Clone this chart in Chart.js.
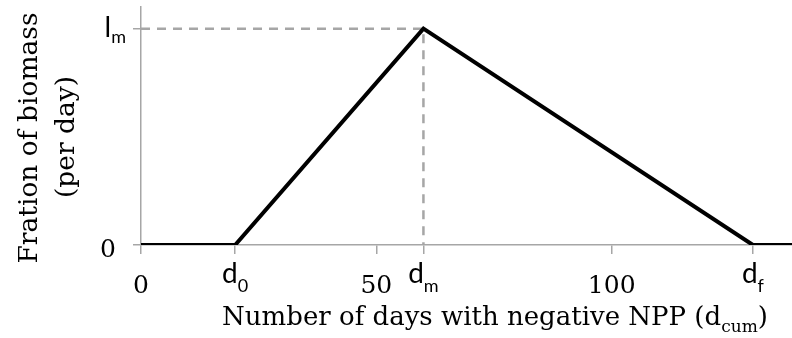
<!DOCTYPE html>
<html lang="en">
<head>
    <meta charset="UTF-8">
    <title>Fraction of biomass</title>
    <style>
        html, body { margin: 0; padding: 0; background: #fff; }
    </style>
</head>
<body>
    <canvas id="myChart" width="792" height="338"></canvas>
<script src="https://cdn.jsdelivr.net/npm/chart.js@4.4.0/dist/chart.umd.min.js"></script>
<script>
    // datos
    var dias = [0, 20, 60, 130, 138.3];
    var fraccion = [0, 0, 1, 0, 0];
    var guiaX = [0, 60, 60];
    var guiaY = [1, 1, 0];

    var xTicks = [0, 20, 50, 60, 100, 130];
    var xTickTexto = ['0', 'd', '50', 'd', '100', 'd'];
    var xTickSub = ['', '0', '', 'm', '', 'f'];
    var yTicks = [0, 1];
    var yTickTexto = ['0', 'l'];
    var yTickSub = ['', 'm'];

    var xMax = 138.3;
    var yMax = 1.1;

    var serif = '"DejaVu Serif"';
    var sans = 'Lato';
    var gris = '#a6a6a6';

    // texto con subindice, alineado al centro o a la derecha de px
    function textoSub(ctx, txt, sub, px, base, baseSub, f1, f2, align) {
        ctx.font = f1;
        var w1 = ctx.measureText(txt).width;
        ctx.font = f2;
        var w2 = ctx.measureText(sub).width;
        var x0 = align == 'right' ? px - w1 - w2 : px - (w1 + w2) / 2;
        ctx.textAlign = 'left';
        ctx.font = f1;
        ctx.fillText(txt, x0, base);
        ctx.font = f2;
        ctx.fillText(sub, x0 + w1, baseSub);
    }

    var etiquetas = {
        id: 'etiquetas',
        afterDraw: function(chart) {
            var ctx = chart.ctx;
            var sx = chart.scales.x;
            var sy = chart.scales.y;
            ctx.save();
            ctx.fillStyle = '#000';
            ctx.textBaseline = 'alphabetic';

            // etiquetas eje x
            xTicks.forEach(function(v, i) {
                var px = sx.getPixelForValue(v);
                if (xTickSub[i] != '') {
                    textoSub(ctx, xTickTexto[i], xTickSub[i], px, 283, 292,
                        '28px ' + sans, '18px ' + sans, 'center');
                } else {
                    ctx.font = '25px ' + serif;
                    ctx.textAlign = 'center';
                    ctx.fillText(xTickTexto[i], px, 293);
                }
            });

            // etiquetas eje y
            yTicks.forEach(function(v, i) {
                var py = sy.getPixelForValue(v);
                if (yTickSub[i] != '') {
                    textoSub(ctx, yTickTexto[i], yTickSub[i], 126, py + 8, py + 14,
                        '28px ' + sans, '18px ' + sans, 'right');
                } else {
                    ctx.font = '25px ' + serif;
                    ctx.textAlign = 'right';
                    ctx.fillText(yTickTexto[i], 116, py + 12);
                }
            });

            // titulo eje x
            var f1 = '26px ' + serif, f2 = '17px ' + serif;
            var partes = [['Number of days with negative NPP (d', f1, 0], ['cum', f2, 7], [')', f1, 0]];
            var total = 0;
            partes.forEach(function(p) { ctx.font = p[1]; p.push(ctx.measureText(p[0]).width); total += p[3]; });
            var x = 495 - total / 2;
            ctx.textAlign = 'left';
            partes.forEach(function(p) {
                ctx.font = p[1];
                ctx.fillText(p[0], x, 325 + p[2]);
                x += p[3];
            });

            // titulo eje y
            ctx.font = '26.5px ' + serif;
            ctx.textAlign = 'center';
            ctx.save();
            ctx.translate(37, 138);
            ctx.rotate(-Math.PI / 2);
            ctx.fillText('Fration of biomass', 0, 0);
            ctx.restore();
            ctx.save();
            ctx.translate(74, 137);
            ctx.rotate(-Math.PI / 2);
            ctx.fillText('(per day)', 0, 0);
            ctx.restore();

            ctx.restore();
        }
    };

    var ctx = document.getElementById('myChart').getContext('2d');
    var myChart = new Chart(ctx, {
        type: 'line',
        data: {
            datasets: [{
                data: dias.map(function(d, i) { return {x: d, y: fraccion[i]}; }),
                borderColor: '#000',
                borderWidth: 4,
                pointRadius: 0,
                tension: 0,
                order: 1
            }, {
                data: guiaX.map(function(d, i) { return {x: d, y: guiaY[i]}; }),
                borderColor: gris,
                borderWidth: 2.5,
                borderDash: [9, 7],
                pointRadius: 0,
                tension: 0,
                order: 2
            }]
        },
        options: {
            responsive: false,
            animation: false,
            devicePixelRatio: 1,
            layout: { padding: { left: 133, top: 7, right: 0, bottom: 84 } },
            plugins: { legend: { display: false }, tooltip: { enabled: false } },
            scales: {
                x: {
                    type: 'linear',
                    min: 0,
                    max: xMax,
                    afterBuildTicks: function(s) { s.ticks = xTicks.map(function(v) { return {value: v}; }); },
                    ticks: { display: false },
                    grid: { drawOnChartArea: false, drawTicks: true, tickLength: 9, color: gris, lineWidth: 1.5 },
                    border: { color: gris, width: 1.5 }
                },
                y: {
                    min: 0,
                    max: yMax,
                    afterBuildTicks: function(s) { s.ticks = yTicks.map(function(v) { return {value: v}; }); },
                    ticks: { display: false },
                    grid: { drawOnChartArea: false, drawTicks: true, tickLength: 8, color: gris, lineWidth: 1.5 },
                    border: { color: gris, width: 1.5 }
                }
            }
        },
        plugins: [etiquetas]
    });
</script>
</body>
</html>
